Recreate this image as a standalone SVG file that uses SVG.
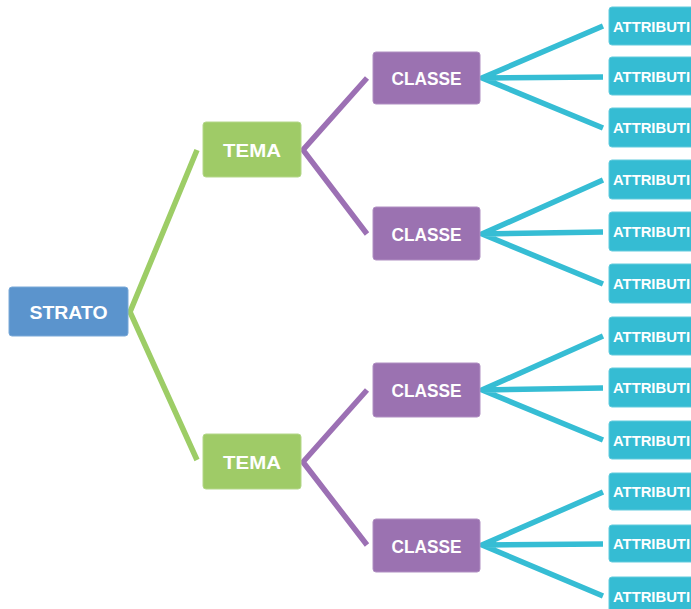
<svg xmlns="http://www.w3.org/2000/svg" width="691" height="609" viewBox="0 0 691 609">
<style>
.lbl{font-family:"Liberation Sans",Arial,sans-serif;font-weight:bold;fill:#ffffff;text-anchor:middle}
.big{font-size:19px}
.sm{font-size:15px;text-anchor:start}
.strato{fill:#5b94cd;stroke:#7aa9d8;stroke-width:1}
.tema{fill:#9fcb67;stroke:#b4d78a;stroke-width:1}
.classe{fill:#9b72b1;stroke:#b08fc2;stroke-width:1}
.attr{fill:#35bcd3;stroke:#62cbdd;stroke-width:1}
.c{fill:none;stroke-width:5.5;stroke-linejoin:miter;stroke-miterlimit:20}
.g{stroke:#9dcd66}
.p{stroke:#9c70b4}
.b{stroke:#36bdd4}
</style>
<rect width="691" height="609" fill="#ffffff"/>
<g id="connectors">
<path class="c g" d="M197,150 L130,312 L197,460"/>
<path class="c p" d="M367,78 L303,150 L367,234"/>
<path class="c p" d="M367,390 L303,462 L367,545"/>
<path class="c b" d="M603,26 L482,78 L603,128 M482,78 L603,77"/>
<path class="c b" d="M603,180 L482,234 L603,284 M482,234 L603,232"/>
<path class="c b" d="M603,336 L482,390 L603,440 M482,390 L603,388"/>
<path class="c b" d="M603,492 L482,545 L603,596 M482,545 L603,544"/>
</g>
<g id="strato">
<rect class="strato" x="9" y="287" width="119" height="49" rx="3"/>
<text class="lbl big" x="68.5" y="318.5" textLength="78" lengthAdjust="spacingAndGlyphs">STRATO</text>
</g>
<g id="tema1">
<rect class="tema" x="203" y="122" width="98" height="55" rx="3"/>
<text class="lbl big" x="252" y="157" textLength="58" lengthAdjust="spacingAndGlyphs">TEMA</text>
</g>
<g id="tema2">
<rect class="tema" x="203" y="434" width="98" height="55" rx="3"/>
<text class="lbl big" x="252" y="468.5" textLength="58" lengthAdjust="spacingAndGlyphs">TEMA</text>
</g>
<g id="classe1">
<rect class="classe" x="373" y="52" width="107" height="52" rx="3"/>
<text class="lbl big" x="426.5" y="85" textLength="70" lengthAdjust="spacingAndGlyphs">CLASSE</text>
</g>
<g id="classe2">
<rect class="classe" x="373" y="207" width="107" height="53" rx="3"/>
<text class="lbl big" x="426.5" y="240.5" textLength="70" lengthAdjust="spacingAndGlyphs">CLASSE</text>
</g>
<g id="classe3">
<rect class="classe" x="373" y="363" width="107" height="54" rx="3"/>
<text class="lbl big" x="426.5" y="397" textLength="70" lengthAdjust="spacingAndGlyphs">CLASSE</text>
</g>
<g id="classe4">
<rect class="classe" x="373" y="519" width="107" height="53" rx="3"/>
<text class="lbl big" x="426.5" y="552.5" textLength="70" lengthAdjust="spacingAndGlyphs">CLASSE</text>
</g>
<g id="attr1"><rect class="attr" x="609" y="7" width="100" height="38" rx="3"/><text class="lbl sm" x="613" y="31.5" textLength="77" lengthAdjust="spacingAndGlyphs">ATTRIBUTI</text></g>
<g id="attr2"><rect class="attr" x="609" y="57" width="100" height="38" rx="3"/><text class="lbl sm" x="613" y="81.5" textLength="77" lengthAdjust="spacingAndGlyphs">ATTRIBUTI</text></g>
<g id="attr3"><rect class="attr" x="609" y="108" width="100" height="39" rx="3"/><text class="lbl sm" x="613" y="133" textLength="77" lengthAdjust="spacingAndGlyphs">ATTRIBUTI</text></g>
<g id="attr4"><rect class="attr" x="609" y="160" width="100" height="39" rx="3"/><text class="lbl sm" x="613" y="185" textLength="77" lengthAdjust="spacingAndGlyphs">ATTRIBUTI</text></g>
<g id="attr5"><rect class="attr" x="609" y="212" width="100" height="39" rx="3"/><text class="lbl sm" x="613" y="237" textLength="77" lengthAdjust="spacingAndGlyphs">ATTRIBUTI</text></g>
<g id="attr6"><rect class="attr" x="609" y="264" width="100" height="39" rx="3"/><text class="lbl sm" x="613" y="289" textLength="77" lengthAdjust="spacingAndGlyphs">ATTRIBUTI</text></g>
<g id="attr7"><rect class="attr" x="609" y="317" width="100" height="38" rx="3"/><text class="lbl sm" x="613" y="341.5" textLength="77" lengthAdjust="spacingAndGlyphs">ATTRIBUTI</text></g>
<g id="attr8"><rect class="attr" x="609" y="368" width="100" height="39" rx="3"/><text class="lbl sm" x="613" y="393" textLength="77" lengthAdjust="spacingAndGlyphs">ATTRIBUTI</text></g>
<g id="attr9"><rect class="attr" x="609" y="421" width="100" height="38" rx="3"/><text class="lbl sm" x="613" y="445.5" textLength="77" lengthAdjust="spacingAndGlyphs">ATTRIBUTI</text></g>
<g id="attr10"><rect class="attr" x="609" y="473" width="100" height="37" rx="3"/><text class="lbl sm" x="613" y="497" textLength="77" lengthAdjust="spacingAndGlyphs">ATTRIBUTI</text></g>
<g id="attr11"><rect class="attr" x="609" y="525" width="100" height="37" rx="3"/><text class="lbl sm" x="613" y="549" textLength="77" lengthAdjust="spacingAndGlyphs">ATTRIBUTI</text></g>
<g id="attr12"><rect class="attr" x="609" y="577" width="100" height="38" rx="3"/><text class="lbl sm" x="613" y="601.5" textLength="77" lengthAdjust="spacingAndGlyphs">ATTRIBUTI</text></g>
</svg>
